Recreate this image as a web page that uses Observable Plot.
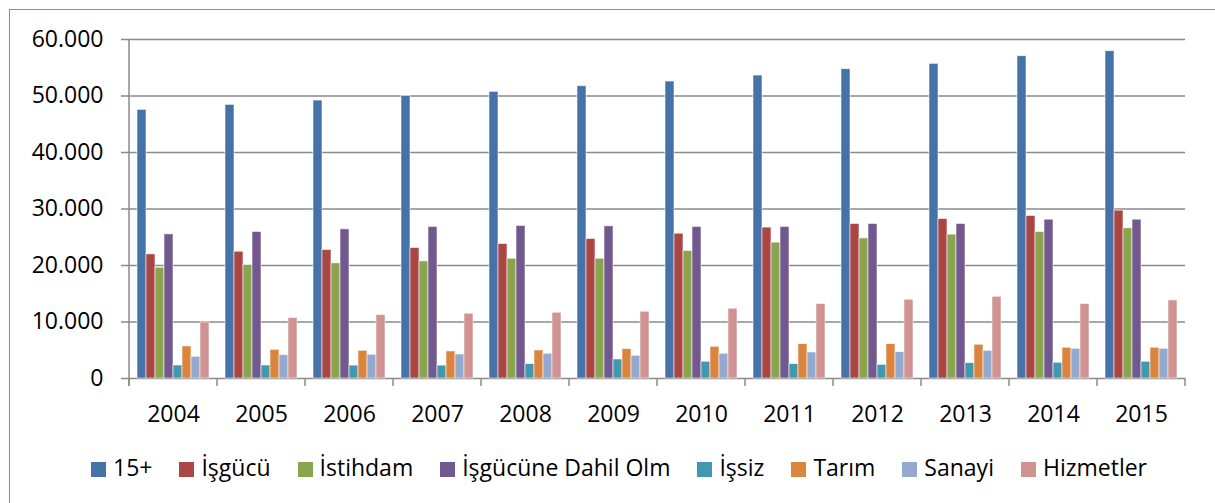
<!DOCTYPE html>
<html>
<head>
<meta charset="utf-8">
<script src="https://cdn.jsdelivr.net/npm/d3@7"></script>
<script src="https://cdn.jsdelivr.net/npm/@observablehq/plot@0.6"></script>
<style>
  html, body { margin: 0; padding: 0; background: #fff; width: 1215px; height: 503px; overflow: hidden; }
  body { position: relative; font-family: "Open Sans", sans-serif; }
  #frame { position: absolute; left: 9px; top: 9px; width: 1400px; height: 700px;
           border-left: 1.5px solid #8c8c8c; border-top: 1.5px solid #8c8c8c; box-sizing: border-box; }
  #chart { position: absolute; left: 0; top: 0; }
  #legend { position: absolute; left: 9px; top: 456px; width: 1220px; display: flex; justify-content: center;
            gap: 27px; font-size: 23px; line-height: 23px; color: #000; }
  .item { display: flex; align-items: center; white-space: nowrap; }
  .sw { width: 15px; height: 15px; margin-right: 7px; position: relative; top: 2px; }
</style>
</head>
<body>
<div id="frame"></div>
<div id="chart"></div>
<div id="legend"></div>
<script>
const years = ["2004","2005","2006","2007","2008","2009","2010","2011","2012","2013","2014","2015"];
const seriesNames = ["15+","İşgücü","İstihdam","İşgücüne Dahil Olm","İşsiz","Tarım","Sanayi","Hizmetler"];
const colors = ["#4572A7","#AA4643","#89A54E","#71588F","#4198AF","#DB843D","#93A9CF","#D19392"];

const pop15 =      [47550,48430,49190,50020,50730,51730,52560,53620,54740,55690,57040,57930];
const isgucu =     [21970,22440,22740,23100,23810,24690,25630,26700,27350,28230,28770,29710];
const istihdam =   [19610,20090,20380,20730,21200,21200,22570,24040,24800,25460,25930,26580];
const dahilOlm =   [25510,25930,26400,26820,27000,26930,26820,26820,27350,27350,28110,28110];
const issiz =      [2300,2300,2280,2280,2550,3370,2960,2550,2420,2720,2780,2960];
const tarim =      [5670,5080,4900,4790,4960,5200,5620,6090,6090,5970,5440,5440];
const sanayi =     [3840,4140,4200,4250,4380,4020,4380,4610,4670,4900,5260,5260];
const hizmetler =  [9920,10700,11230,11460,11640,11820,12350,13180,13940,14470,13180,13820];

const yTicks = [0,10000,20000,30000,40000,50000,60000];

const seriesValues = [pop15, isgucu, istihdam, dahilOlm, issiz, tarim, sanayi, hizmetler];
const data = [];
years.forEach((yr, i) => {
  seriesNames.forEach((s, j) => data.push({year: yr, series: s, value: seriesValues[j][i]}));
});

const fmt = d => d3.format(",")(d).replace(/,/g, ".");
const gridColor = "#8a8a8a";

const chart = Plot.plot({
  width: 1215,
  height: 440,
  marginLeft: 125,
  marginRight: 26,
  marginTop: 39,
  marginBottom: 62,
  style: {fontFamily: "Open Sans", fontSize: "23px", color: "#000", background: "transparent"},
  fx: {domain: years, padding: 0, label: null},
  x: {domain: seriesNames, paddingInner: 0, paddingOuter: 0.75, axis: null},
  y: {domain: [0, 60000], label: null},
  color: {domain: seriesNames, range: colors},
  marks: [
    Plot.ruleY(yTicks, {stroke: gridColor, strokeWidth: 1.5}),
    Plot.barY(data, {fx: "year", x: "series", y: "value", fill: "series",
                     stroke: "#ffffff", strokeWidth: 0.8, strokeOpacity: 0.7}),
    Plot.axisY({anchor: "left", ticks: yTicks, tickFormat: fmt, tickSize: 8, tickPadding: 18,
                stroke: gridColor, strokeWidth: 1.5, strokeOpacity: 1, fill: "#000", fontSize: 23, label: null}),
    Plot.axisFx({anchor: "bottom", tickSize: 0, tickPadding: 27, fontSize: 23, fill: "#000", label: null})
  ]
});

document.getElementById("chart").appendChild(chart);

// boundary ticks and y axis line, positioned from the plot's own scales
const fxs = chart.scale("fx");
const ys = chart.scale("y");
const fxApply = fxs.apply ? fxs.apply : d3.scaleBand(fxs.domain, fxs.range).padding(0);
const bw = fxs.bandwidth;
const yApply = ys.apply ? ys.apply : d3.scaleLinear(ys.domain, ys.range);
const y0 = yApply(0), yTop = yApply(60000);
const bounds = years.map(v => fxApply(v)).concat([fxApply(years[years.length - 1]) + bw]);
const g = d3.select(chart).append("g").attr("stroke", gridColor).attr("stroke-width", 1.5);
bounds.forEach(bx => {
  g.append("line").attr("x1", bx).attr("x2", bx).attr("y1", y0).attr("y2", y0 + 8);
});
g.append("line").attr("x1", bounds[0]).attr("x2", bounds[0]).attr("y1", yTop).attr("y2", y0 + 8);

// legend
const legend = document.getElementById("legend");
seriesNames.forEach((s, j) => {
  const it = document.createElement("div");
  it.className = "item";
  const sw = document.createElement("span");
  sw.className = "sw";
  sw.style.background = colors[j];
  const tx = document.createElement("span");
  tx.textContent = s;
  it.appendChild(sw); it.appendChild(tx);
  legend.appendChild(it);
});
</script>
</body>
</html>
